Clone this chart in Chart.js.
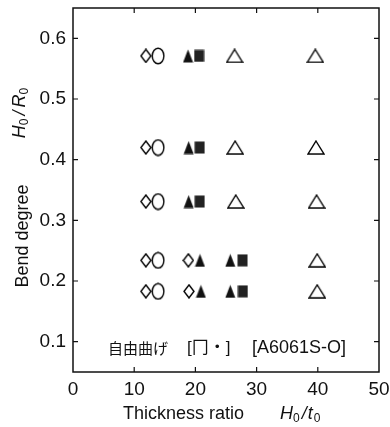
<!DOCTYPE html>
<html>
<head>
<meta charset="utf-8">
<script src="https://cdn.jsdelivr.net/npm/chart.js@4.4.1/dist/chart.umd.min.js"></script>
<style>
html,body{margin:0;padding:0;background:#fff;}
#wrap{width:390px;height:427px;position:relative;}
</style>
</head>
<body>
<div id="wrap"><canvas id="c" width="390" height="427"></canvas></div>
<script>
// ---- data (thickness ratio H0/t0, bend degree H0/R0) ----
const diamondX = [11.9, 11.9, 11.9, 11.9, 11.9, 18.85, 18.95];
const diamondY = [0.571, 0.42, 0.331, 0.234, 0.183, 0.234, 0.183];
const circleX  = [13.9, 13.9, 13.9, 13.9, 13.9];
const circleY  = [0.571, 0.42, 0.331, 0.234, 0.183];
const filledTriX = [18.8, 18.9, 18.9, 20.75, 20.9, 25.7, 25.7];
const filledTriY = [0.571, 0.42, 0.331, 0.234, 0.183, 0.234, 0.183];
const squareX  = [20.6, 20.7, 20.7, 27.7, 27.75];
const squareY  = [0.571, 0.42, 0.331, 0.234, 0.183];
const openTriX = [26.4, 26.5, 26.6, 39.6, 39.7, 39.8, 39.9, 39.9];
const openTriY = [0.571, 0.42, 0.331, 0.571, 0.42, 0.331, 0.234, 0.183];
const xTicks = [0, 10, 20, 30, 40, 50];
const yTicks = [0.1, 0.2, 0.3, 0.4, 0.5, 0.6];
const xTitle = "Thickness ratio";
const yTitle = "Bend degree";
const noteJa = "自由曲げ";
const noteShape = "[冂・]";
const noteMat = "[A6061S-O]";

function pts(xs, ys){ return xs.map((x,i)=>({x:x, y:ys[i]})); }

// ---- marker images ----
function mk(w, h, draw){
  const c = document.createElement('canvas');
  c.width = w; c.height = h;
  const g = c.getContext('2d');
  g.strokeStyle = '#000'; g.fillStyle = '#000'; g.lineWidth = 1.4;
  draw(g, w, h);
  return c;
}
const diamondImg = mk(12, 15, (g,w,h)=>{
  g.beginPath(); g.moveTo(w/2,1); g.lineTo(w-1,h/2); g.lineTo(w/2,h-1); g.lineTo(1,h/2); g.closePath(); g.stroke();
});
const ellipseImg = mk(14, 18, (g,w,h)=>{
  g.beginPath(); g.ellipse(w/2,h/2,w/2-1.2,h/2-1.2,0,0,Math.PI*2); g.stroke();
});
const filledTriImg = mk(11, 14, (g,w,h)=>{
  g.fillStyle='#111';
  g.beginPath(); g.moveTo(w/2,0.5); g.lineTo(w-0.5,h-0.5); g.lineTo(0.5,h-0.5); g.closePath(); g.fill();
});
const squareImg = mk(11, 13, (g,w,h)=>{
  g.fillStyle='#222'; g.fillRect(0.5,0.5,w-1,h-1);
});
const openTriImg = mk(18, 15, (g,w,h)=>{
  g.beginPath(); g.moveTo(w/2,1); g.lineTo(w-1,h-1); g.lineTo(1,h-1); g.closePath(); g.stroke();
});

function ds(label, data, img){
  return {label, data, pointStyle: img, pointRadius: 7, pointHoverRadius: 7, showLine:false,
          borderColor:'#111', backgroundColor:'#111'};
}

// ---- custom drawing: frame, inward ticks, titles, note ----
function font(p){
  const size = p.sub ? 12 : 18;
  return (p.it?'italic ':'') + size + 'px "Liberation Sans", Arial, sans-serif';
}
function runs(ctx, parts, x, y, align){
  const widths = parts.map(p=>{ ctx.font = font(p); return ctx.measureText(p.t).width + (p.gap||0); });
  const total = widths.reduce((a,b)=>a+b,0);
  let cx = align==='center' ? x - total/2 : x;
  ctx.textAlign = 'left';
  parts.forEach((p,i)=>{
    ctx.font = font(p);
    ctx.fillText(p.t, cx, y + (p.sub?5:0));
    cx += widths[i];
  });
}

const deco = {
  id:'deco',
  afterDraw(chart){
    const ctx = chart.ctx, a = chart.chartArea;
    const xs = chart.scales.x, ys = chart.scales.y;
    ctx.save();
    ctx.strokeStyle = '#111'; ctx.lineWidth = 1.5;
    ctx.strokeRect(a.left, a.top, a.right-a.left, a.bottom-a.top);
    ctx.lineWidth = 1.2;
    ctx.beginPath();
    yTicks.forEach(v=>{
      const py = ys.getPixelForValue(v);
      ctx.moveTo(a.left, py); ctx.lineTo(a.left+5, py);
      ctx.moveTo(a.right, py); ctx.lineTo(a.right-5, py);
    });
    xTicks.slice(1,-1).forEach(v=>{
      const px = xs.getPixelForValue(v);
      ctx.moveTo(px, a.bottom); ctx.lineTo(px, a.bottom-5);
      ctx.moveTo(px, a.top); ctx.lineTo(px, a.top+5);
    });
    ctx.stroke();

    ctx.fillStyle = '#111';
    ctx.textBaseline = 'middle';
    // x title
    runs(ctx, [{t:xTitle}], 123, 414, 'left');
    runs(ctx, [{t:'H', it:true},{t:'0', sub:true, gap:2},{t:'/', it:true, gap:1},{t:'t', it:true, gap:1},{t:'0', sub:true}], 280, 414, 'left');
    // y title
    ctx.save();
    ctx.translate(23, 236); ctx.rotate(-Math.PI/2);
    runs(ctx, [{t:yTitle}], 0, 0, 'center');
    ctx.restore();
    ctx.save();
    ctx.translate(20, 113); ctx.rotate(-Math.PI/2);
    runs(ctx, [{t:'H', it:true},{t:'0', sub:true, gap:3},{t:'/', it:true, gap:3},{t:'R', it:true},{t:'0', sub:true}], 0, 0, 'center');
    ctx.restore();

    // note
    ctx.textAlign = 'left';
    ctx.font = '15px "Noto Sans CJK JP", sans-serif';
    ctx.fillText(noteJa, 108, 348);
    ctx.font = '17px "Liberation Sans", "Noto Sans CJK JP", sans-serif';
    ctx.fillText(noteShape, 187, 348);
    ctx.font = '18px "Liberation Sans", sans-serif';
    ctx.fillText(noteMat, 252, 348);
    ctx.restore();
  }
};

new Chart(document.getElementById('c'), {
  type:'scatter',
  data:{ datasets:[
    ds('diamond', pts(diamondX, diamondY), diamondImg),
    ds('circle', pts(circleX, circleY), ellipseImg),
    ds('filled triangle', pts(filledTriX, filledTriY), filledTriImg),
    ds('filled square', pts(squareX, squareY), squareImg),
    ds('open triangle', pts(openTriX, openTriY), openTriImg)
  ]},
  options:{
    responsive:false, animation:false, devicePixelRatio:1,
    layout:{padding:{left:0, top:5, right:11, bottom:0}},
    plugins:{legend:{display:false}, tooltip:{enabled:false}},
    scales:{
      x:{ type:'linear', min:0, max:50,
          afterBuildTicks:(s)=>{ s.ticks = xTicks.map(v=>({value:v})); },
          afterFit:(s)=>{ s.height = 55; s.paddingLeft = 0; s.paddingRight = 0; },
          grid:{display:false, drawTicks:false},
          border:{display:false},
          ticks:{ padding:6, color:'#111', maxRotation:0,
                  font:{family:'"Liberation Sans", Arial, sans-serif', size:19},
                  callback:(v)=>String(v) } },
      y:{ type:'linear', min:0.05, max:0.65,
          afterBuildTicks:(s)=>{ s.ticks = yTicks.map(v=>({value:v})); },
          afterFit:(s)=>{ s.width = 73; s.paddingTop = 0; s.paddingBottom = 0; },
          grid:{display:false, drawTicks:false},
          border:{display:false},
          ticks:{ padding:7, color:'#111',
                  font:{family:'"Liberation Sans", Arial, sans-serif', size:19},
                  callback:(v)=>Number(v).toFixed(1) } }
    }
  },
  plugins:[deco]
});
</script>
</body>
</html>
